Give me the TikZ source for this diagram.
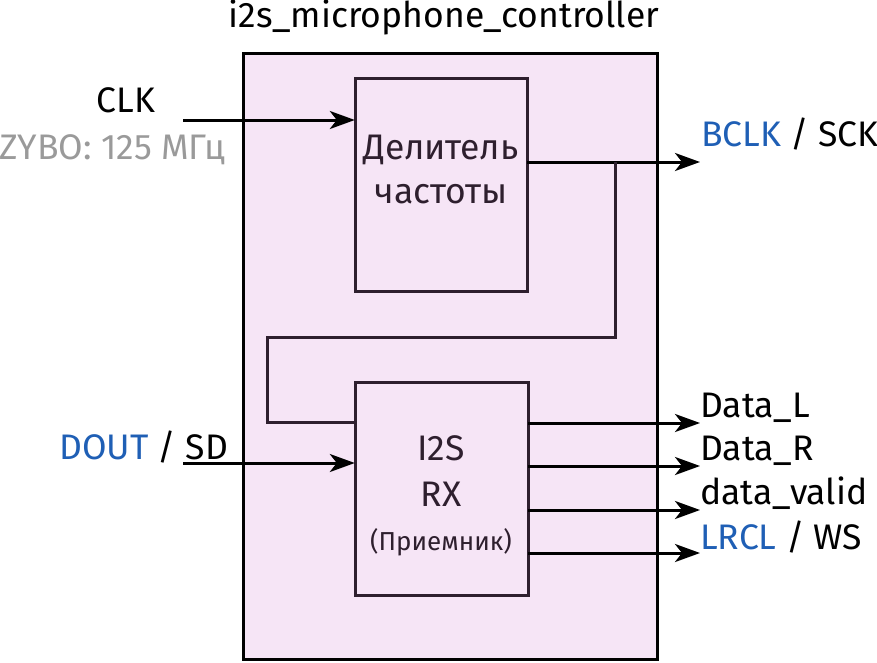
\documentclass[tikz,border=0pt]{standalone}
\usepackage{fontspec}
\setmainfont{Fira Sans}
\usetikzlibrary{arrows.meta}
\definecolor{boxfill}{HTML}{F6E5F6}
\definecolor{inner}{HTML}{2E1F2E}
\definecolor{sigblue}{HTML}{1F5FB5}
\definecolor{note}{HTML}{9A9A9A}
\tikzset{
  big/.style={font=\fontsize{35.5}{44}\selectfont, inner sep=0pt},
  small/.style={font=\fontsize{26}{30}\selectfont, inner sep=0pt},
  wire/.style={line width=3pt, draw=inner},
  sig/.style={line width=3pt, draw=black, -{Stealth[length=25pt,width=18pt,inset=7pt]}},
  blockbox/.style={draw=inner, line width=3pt, fill=boxfill},
}
\begin{document}
\begin{tikzpicture}[x=1pt,y=-1pt]
\useasboundingbox (0,0) rectangle (877,662);
% outer
\node[big, anchor=center] (title) at (444,17) {i2s\_microphone\_controller};
\draw[line width=3pt, fill=boxfill] (243,53) rectangle (657,659);
% divider
\draw[blockbox] (355,78) rectangle (527,291);
\node (div) at (441,184.5) [minimum width=172pt, minimum height=213pt] {};
\node[big, text=inner, align=center] (divtext) at (441,169) {Делитель\\частоты};
% rx
\draw[blockbox] (355,382) rectangle (528,595);
\node (rx) at (441.5,488.5) [minimum width=173pt, minimum height=213pt] {};
\node[big, text=inner] (rxa) at (441,448) {I2S};
\node[big, text=inner] (rxb) at (441,494) {RX};
\node[small, text=inner] (rxc) at (441,542) {(Приемник)};
% inputs
\node[big] (clk) at (126,100) {CLK};
\node[big, text=note] (zybo) at (112,150) {ZYBO: 125 МГц};
\coordinate (clkin) at (183,120);
\draw[sig] (clkin) -- (div.west |- clkin);
\node[big, anchor=west] (dout) at (59,447) {\textcolor{sigblue}{DOUT} / SD};
\coordinate (doutin) at (183,463);
\draw[sig] (doutin) -- (rx.west |- doutin);
% BCLK
\coordinate (bclkend) at (700,162);
\draw[sig] (div.east |- bclkend) -- (bclkend);
\node[big, anchor=west] (bclk) at (701,134) {\textcolor{sigblue}{BCLK} / SCK};
% feedback
\coordinate (fb1) at (615,162);
\coordinate (fb2) at (615,337);
\coordinate (fb3) at (267,337);
\coordinate (fb4) at (267,422);
\draw[wire, line join=miter] (fb1) -- (fb2) -- (fb3) -- (fb4) -- (rx.west |- fb4);
% outputs
\foreach \yy/\nm in {423/dl, 466/dr, 510/dv, 553/lr} {
  \coordinate (\nm end) at (700,\yy);
  \draw[sig] (rx.east |- \nm end) -- (\nm end);
}
\node[big, anchor=west] (dataL) at (700,408) {Data\_L};
\node[big, anchor=west] (dataR) at (700,451) {Data\_R};
\node[big, anchor=west] (dataV) at (700,493) {data\_valid};
\node[big, anchor=west] (lrcl) at (700,537) {\textcolor{sigblue}{LRCL} / WS};
\end{tikzpicture}
\end{document}
